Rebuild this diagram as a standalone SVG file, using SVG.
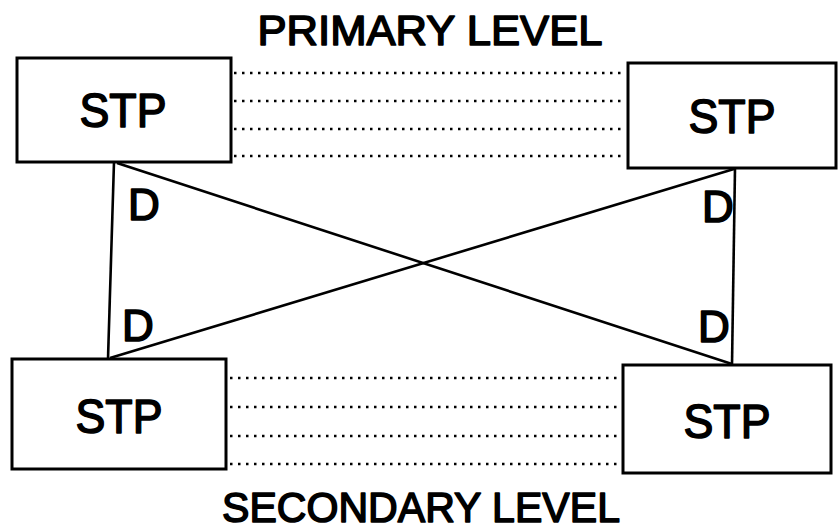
<svg xmlns="http://www.w3.org/2000/svg" width="838" height="532" viewBox="0 0 838 532">
  <style>
    .box { fill: #fff; stroke: #000; stroke-width: 3; }
    .lbl { font-family: "Liberation Sans", Arial, sans-serif; font-weight: normal; fill: #000; stroke: #000; stroke-width: 1.6; stroke-linejoin: round; }
    .stp { font-size: 49px; text-anchor: middle; }
    .lvl { font-size: 42px; text-anchor: middle; }
    .d { font-size: 44px; }
    .link { stroke: #000; stroke-width: 2.6; fill: none; }
    .dots { stroke: #000; stroke-width: 2.5; stroke-dasharray: 2.5 5.5; fill: none; }
  </style>
  <rect width="838" height="532" fill="#fff"/>

  <text class="lbl lvl" x="430" y="45" textLength="345" lengthAdjust="spacingAndGlyphs">PRIMARY LEVEL</text>
  <text class="lbl lvl" x="421" y="522" textLength="398" lengthAdjust="spacingAndGlyphs">SECONDARY LEVEL</text>

  <g id="connectors">
    <!-- dotted links between primary STPs -->
    <line class="dots" x1="234" y1="73" x2="626" y2="73"/>
    <line class="dots" x1="234" y1="101" x2="626" y2="101"/>
    <line class="dots" x1="234" y1="129" x2="626" y2="129"/>
    <line class="dots" x1="234" y1="156" x2="626" y2="156"/>
    <!-- dotted links between secondary STPs -->
    <line class="dots" x1="230" y1="378" x2="620" y2="378"/>
    <line class="dots" x1="230" y1="407" x2="620" y2="407"/>
    <line class="dots" x1="230" y1="436" x2="620" y2="436"/>
    <line class="dots" x1="230" y1="464" x2="620" y2="464"/>
    <!-- D links -->
    <line class="link" x1="114" y1="162" x2="108" y2="359"/>
    <line class="link" x1="735" y1="168" x2="732" y2="365"/>
    <line class="link" x1="117" y1="163" x2="732" y2="364"/>
    <line class="link" x1="734" y1="169" x2="110" y2="358"/>
  </g>

  <g id="stp-primary-left">
    <rect class="box" x="17" y="58" width="214" height="104"/>
    <text class="lbl stp" x="123" y="127" textLength="87" lengthAdjust="spacingAndGlyphs">STP</text>
  </g>
  <g id="stp-primary-right">
    <rect class="box" x="628" y="63" width="208" height="105"/>
    <text class="lbl stp" x="732" y="133" textLength="87" lengthAdjust="spacingAndGlyphs">STP</text>
  </g>
  <g id="stp-secondary-left">
    <rect class="box" x="12" y="359" width="214" height="110"/>
    <text class="lbl stp" x="119" y="433" textLength="87" lengthAdjust="spacingAndGlyphs">STP</text>
  </g>
  <g id="stp-secondary-right">
    <rect class="box" x="623" y="365" width="208" height="108"/>
    <text class="lbl stp" x="727" y="438" textLength="87" lengthAdjust="spacingAndGlyphs">STP</text>
  </g>

  <g id="d-labels">
    <text class="lbl d" x="128" y="220">D</text>
    <text class="lbl d" x="702" y="222">D</text>
    <text class="lbl d" x="122" y="341">D</text>
    <text class="lbl d" x="698" y="342">D</text>
  </g>
</svg>
